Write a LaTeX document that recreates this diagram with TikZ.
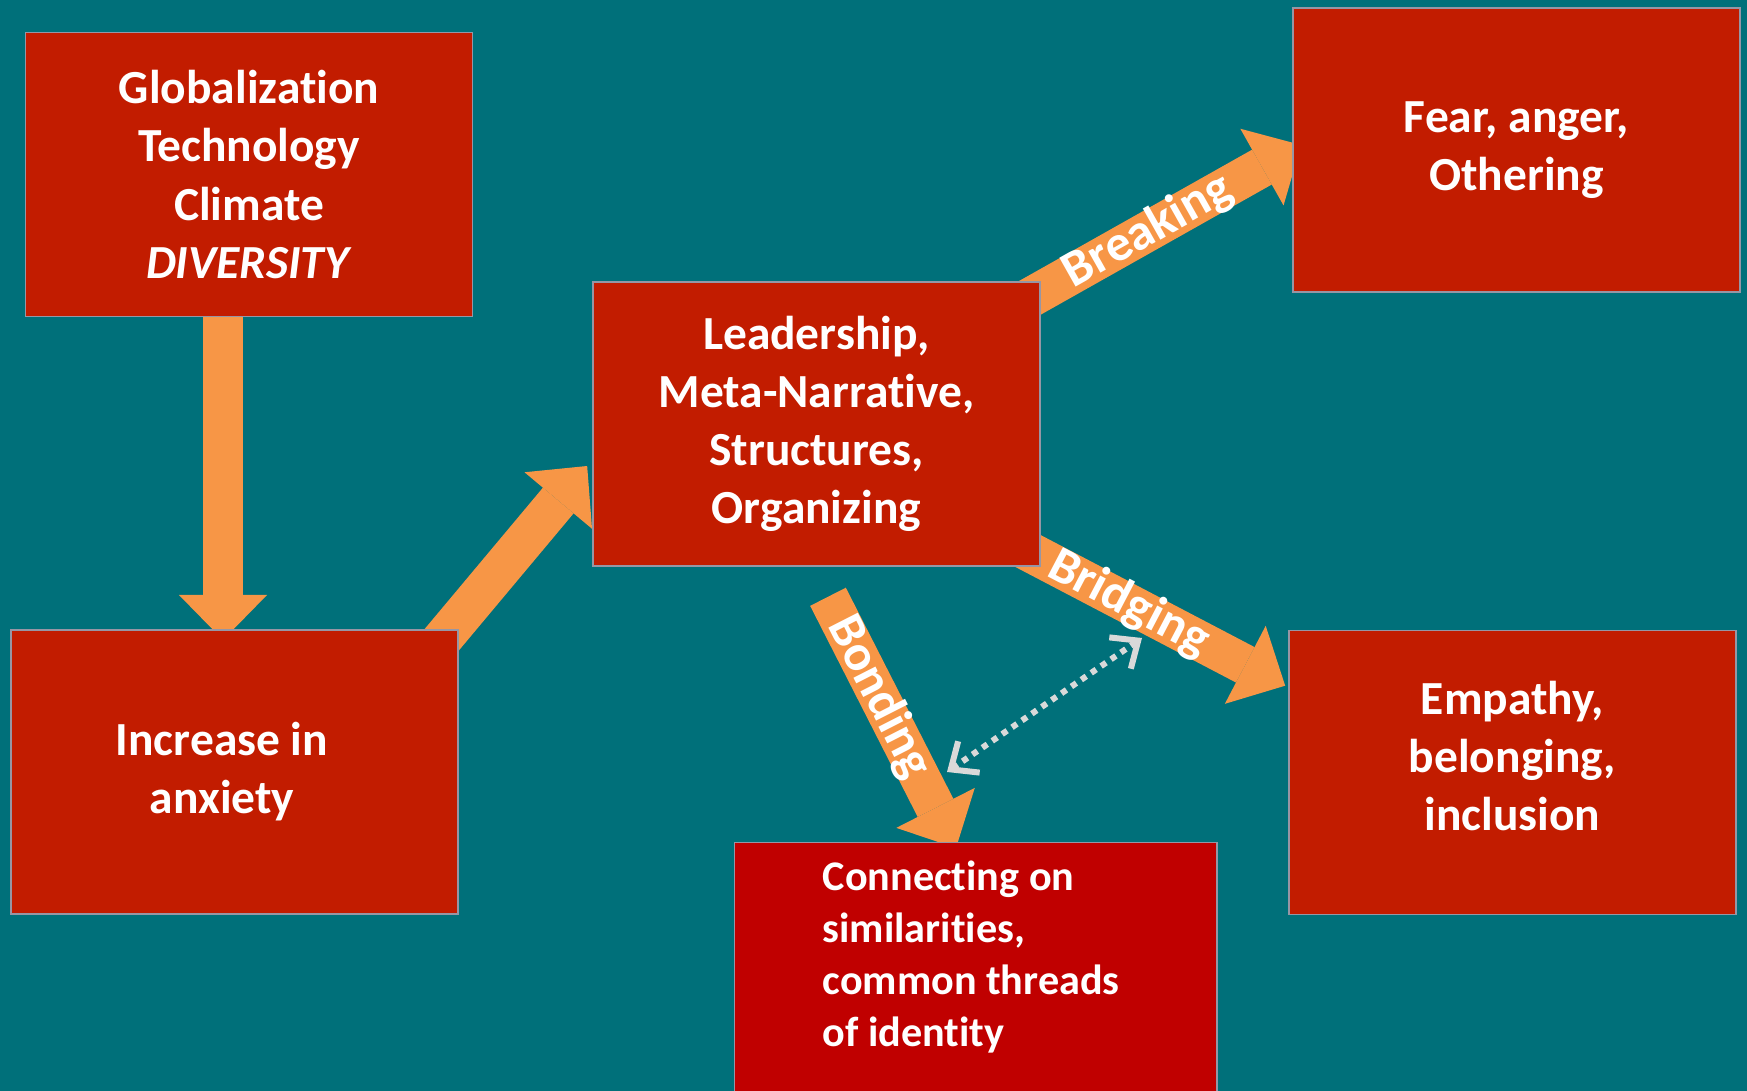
\documentclass[tikz,border=0pt]{standalone}
\usepackage{fontspec}
\setmainfont{Carlito}[Ligatures=NoCommon]
\usetikzlibrary{arrows.meta,calc,backgrounds}

\definecolor{tealbg}{RGB}{0,112,122}
\definecolor{boxred}{RGB}{194,28,0}
\definecolor{deepred}{RGB}{192,0,0}
\definecolor{flow}{RGB}{247,150,70}
\definecolor{linkgray}{RGB}{217,217,217}
\definecolor{rim}{RGB}{150,150,165}

\begin{document}
\begin{tikzpicture}[x=0.01cm, y=-0.01cm,
  box/.style={fill=boxred, draw=rim, line width=0.4pt, text=white, align=center,
    minimum width=4.47cm, minimum height=2.84cm, inner sep=0pt,
    font=\bfseries\fontsize{13.5}{16.5}\selectfont},
  fat/.style={flow, line width=0.4cm, -{Triangle[length=0.45cm, width=0.88cm, line width=0pt]}},
  tag/.style={text=white, sloped, font=\bfseries\fontsize{14.5}{17}\selectfont}]

\useasboundingbox (0,0) rectangle (1747,1091);

% the six boxes
\node[box] (glob) at (249,174.5) {Globalization\\Technology\\Climate\\\textit{DIVERSITY}};
\node[box] (fear) at (1516.5,150) {Fear, anger,\\Othering};
\node[box] (lead) at (816.5,424) {Leadership,\\Meta-Narrative,\\Structures,\\Organizing};
\node[box] (anx) at (234.5,772) {Increase in\hspace*{0.25cm}\\anxiety\hspace*{0.25cm}};
\node[box] (emp) at (1512.5,772.5) {Empathy,\\belonging,\\inclusion\\[-7pt]\mbox{}};
\node[box, fill=deepred, minimum width=4.82cm, minimum height=2.6cm, anchor=north west] (conn) at (734,842) {};
\node[text=white, align=left, anchor=north west, inner sep=0pt,
  font=\bfseries\fontsize{12}{14.8}\selectfont] (conntext) at ($(conn.north west)+(88,18)$)
  {Connecting on\\similarities,\\common threads\\of identity};

% fat arrows behind the boxes
\begin{scope}[on background layer]
\fill[tealbg] (0,0) rectangle (1747,1091);
\coordinate (tipdown) at (223,640);
\draw[fat] (glob.south -| tipdown) -- (tipdown);
\draw[fat] ($(anx.north east)+(-25,20)$) -- ($(lead.west)+(-5,42)$);
\draw[fat] ($(lead.north east)+(-40,33)$) -- ($(fear.west)+(9,-5)$) node[tag, pos=0.49] {Breaking};
\draw[fat] ($(lead.south east)+(-40,-30)$) -- ($(emp.north west)+(-3,56)$) node[tag, pos=0.45] {Bridging};
\coordinate (bondstart) at ($(lead.south)+(11.5,30)$);
\draw[fat] (bondstart) -- ($(conn.north west)+(222,6)$) node[tag, pos=0.40] {Bonding};
\end{scope}

% dotted link between the two ties
\coordinate (bridgept) at (1142,638);
\coordinate (bondpt) at (947,772);
\draw[linkgray, line width=0.06cm, dash pattern=on 0.06cm off 0.06cm,
  {Straight Barb[length=0.22cm, width=0.38cm]}-{Straight Barb[length=0.22cm, width=0.38cm]}] (bridgept) -- (bondpt);

\end{tikzpicture}
\end{document}
